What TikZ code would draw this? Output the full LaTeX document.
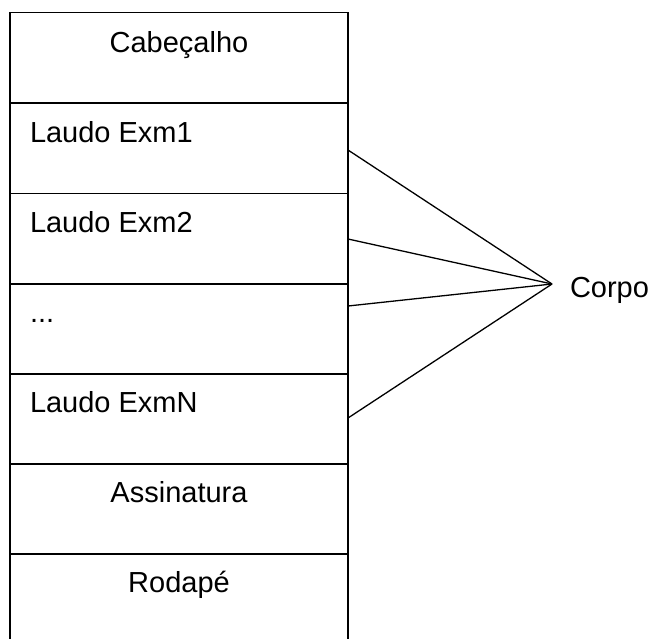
\documentclass[tikz,border=0pt]{standalone}
\usepackage{fontspec}
\setmainfont{Liberation Sans}
\begin{document}
\begin{tikzpicture}[x=1pt,y=-1pt,line width=1.5pt,
  row/.style={draw, minimum width=338pt, minimum height=90.5pt, inner sep=0pt, outer sep=0pt, anchor=north west},
  lbl/.style={font=\fontsize{29}{34}\selectfont, inner sep=0pt, outer sep=0pt},
  conn/.style={draw, line width=1.3pt}]
\useasboundingbox (0,0) rectangle (655,638);
% rows
\node[row] (r1) at (10,12.5) {};
\node[row] (r2) at (10,103) {};
\node[row] (r3) at (10,193.5) {};
\node[row] (r4) at (10,283.5) {};
\node[row] (r5) at (10,373.5) {};
\node[row] (r6) at (10,463.5) {};
% last row, open at the bottom
\coordinate (r7tl) at (10,553.5);
\coordinate (r7tr) at (348,553.5);
\coordinate (r7bl) at (10,640);
\coordinate (r7br) at (348,640);
\draw (r7bl) -- (r7tl) -- (r7tr) -- (r7br);
% texts
\node[lbl, anchor=base] (t1) at (179,52) {Cabeçalho};
\node[lbl, anchor=base west] (t2) at (30,142) {Laudo Exm1};
\node[lbl, anchor=base west] (t3) at (30,232) {Laudo Exm2};
\node[lbl, anchor=base west] (t4) at (30,322) {...};
\node[lbl, anchor=base west] (t5) at (30,412) {Laudo ExmN};
\node[lbl, anchor=base] (t6) at (179,502) {Assinatura};
\node[lbl, anchor=base] (t7) at (179,592) {Rodapé};
% connectors
\coordinate (apex) at (552,284);
\coordinate (e1) at (348,150);
\coordinate (e2) at (348,239);
\coordinate (e3) at (348,306);
\coordinate (e4) at (348,418);
\draw[conn] (e1) -- (apex);
\draw[conn] (e2) -- (apex);
\draw[conn] (e3) -- (apex);
\draw[conn] (e4) -- (apex);
\node[lbl, anchor=base west] (corpo) at (570,297) {Corpo};
\end{tikzpicture}
\end{document}
